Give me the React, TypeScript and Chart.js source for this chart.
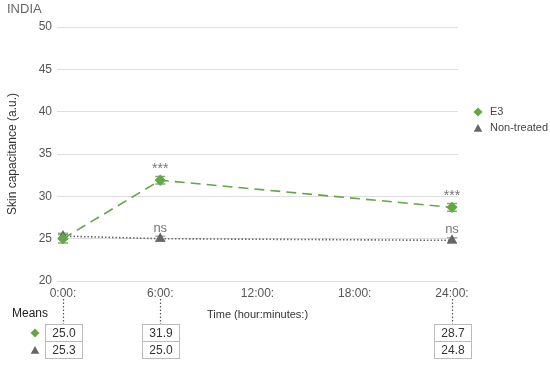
import React, { useEffect, useRef } from "react";
import { Chart, registerables } from "chart.js";

Chart.register(...registerables);

const FONT = "'Liberation Sans', Arial, Helvetica, sans-serif";

const times = [0, 6, 24];
const xTicks = [0, 6, 12, 18, 24];
const e3Values = [25.0, 31.9, 28.7];
const e3Errors = [0.5, 0.45, 0.45];
const ntValues = [25.3, 25.0, 24.8];
const ntErrors = [0.35, 0.3, 0.3];
const e3Sig = ["", "***", "***"];
const ntSig = ["", "ns", "ns"];
const seriesNames = ["E3", "Non-treated"];
const GREEN = "#62a844";
const GRAY = "#666666";

function drawDiamond(ctx: CanvasRenderingContext2D, x: number, y: number, r: number, color: string) {
  ctx.save();
  ctx.fillStyle = color;
  ctx.beginPath();
  ctx.moveTo(x, y - r);
  ctx.lineTo(x + r, y);
  ctx.lineTo(x, y + r);
  ctx.lineTo(x - r, y);
  ctx.closePath();
  ctx.fill();
  ctx.restore();
}

function drawTriangle(ctx: CanvasRenderingContext2D, x: number, y: number, r: number, color: string) {
  ctx.save();
  ctx.fillStyle = color;
  ctx.beginPath();
  ctx.moveTo(x, y - r);
  ctx.lineTo(x + r * 0.95, y + r * 0.7);
  ctx.lineTo(x - r * 0.95, y + r * 0.7);
  ctx.closePath();
  ctx.fill();
  ctx.restore();
}

const extrasPlugin = {
  id: "extras",
  beforeDatasetsDraw(chart: any) {
    const ctx = chart.ctx as CanvasRenderingContext2D;
    const y = chart.scales.y;
    const errs = [e3Errors, ntErrors];
    const vals = [e3Values, ntValues];
    const cols = ["#8aa67a", "#aaaaaa"];
    [1, 0].forEach((di) => {
      const meta = chart.getDatasetMeta(di);
      meta.data.forEach((pt: any, i: number) => {
        const top = y.getPixelForValue(vals[di][i] + errs[di][i]);
        const bot = y.getPixelForValue(vals[di][i] - errs[di][i]);
        ctx.save();
        ctx.strokeStyle = cols[di];
        ctx.lineWidth = 1.5;
        ctx.beginPath();
        ctx.moveTo(pt.x, top);
        ctx.lineTo(pt.x, bot);
        ctx.moveTo(pt.x - 5, top);
        ctx.lineTo(pt.x + 5, top);
        ctx.moveTo(pt.x - 5, bot);
        ctx.lineTo(pt.x + 5, bot);
        ctx.stroke();
        ctx.restore();
      });
    });
  },
  afterDraw(chart: any) {
    const ctx = chart.ctx as CanvasRenderingContext2D;
    const xs = chart.scales.x;
    const ys = chart.scales.y;

    // title
    ctx.save();
    ctx.fillStyle = "#666";
    ctx.font = `13px ${FONT}`;
    ctx.textBaseline = "middle";
    ctx.textAlign = "left";
    ctx.fillText("INDIA", 7, 9);

    // significance labels
    ctx.fillStyle = "#777";
    ctx.textAlign = "center";
    ctx.textBaseline = "alphabetic";
    const sigs = [e3Sig, ntSig];
    const vals = [e3Values, ntValues];
    sigs.forEach((arr, di) => {
      arr.forEach((s, i) => {
        if (!s) return;
        const px = xs.getPixelForValue(times[i]);
        const py = ys.getPixelForValue(vals[di][i]);
        ctx.font = `${s === "ns" ? 13 : 14}px ${FONT}`;
        ctx.fillText(s, px, py - 7);
      });
    });

    // legend
    ctx.font = `11px ${FONT}`;
    ctx.fillStyle = "#444";
    ctx.textAlign = "left";
    ctx.textBaseline = "middle";
    drawDiamond(ctx, 478, 112, 4.5, GREEN);
    ctx.fillText(seriesNames[0], 490, 112);
    drawTriangle(ctx, 478, 128.5, 4.5, GRAY);
    ctx.fillText(seriesNames[1], 490, 128);

    // means table
    ctx.fillStyle = "#222";
    ctx.font = `12px ${FONT}`;
    ctx.fillText("Means", 12, 314);
    ctx.font = `11px ${FONT}`;
    ctx.fillStyle = "#333";
    ctx.fillText("Time (hour:minutes:)", 207, 315);
    drawDiamond(ctx, 35, 333, 4.5, GREEN);
    drawTriangle(ctx, 35, 350.5, 4.5, GRAY);

    const tTop = 324;
    const rowH = 17;
    const w = 37;
    times.forEach((t, i) => {
      const px = Math.round(xs.getPixelForValue(t)) + 0.5;
      ctx.save();
      ctx.strokeStyle = "#555";
      ctx.lineWidth = 1.2;
      ctx.setLineDash([1.5, 2]);
      ctx.beginPath();
      ctx.moveTo(px, 299);
      ctx.lineTo(px, tTop);
      ctx.stroke();
      ctx.restore();
      ctx.save();
      ctx.strokeStyle = "#bbb";
      ctx.lineWidth = 1;
      const left = Math.round(px - w / 2) + 0.5;
      ctx.strokeRect(left, tTop + 0.5, w, rowH);
      ctx.strokeRect(left, tTop + rowH + 0.5, w, rowH);
      ctx.fillStyle = "#333";
      ctx.font = `12px ${FONT}`;
      ctx.textAlign = "center";
      ctx.textBaseline = "middle";
      ctx.fillText(e3Values[i].toFixed(1), left + w / 2, tTop + rowH / 2 + 1);
      ctx.fillText(ntValues[i].toFixed(1), left + w / 2, tTop + rowH * 1.5 + 1);
      ctx.restore();
    });
    ctx.restore();
  },
};

export default function App() {
  const ref = useRef<HTMLCanvasElement | null>(null);
  useEffect(() => {
    if (!ref.current) return;
    Chart.defaults.font.family = FONT;
    const chart = new Chart(ref.current, {
      type: "line",
      data: {
        datasets: [
          {
            label: seriesNames[0],
            data: times.map((t, i) => ({ x: t, y: e3Values[i] })),
            borderColor: GREEN,
            backgroundColor: GREEN,
            borderWidth: 1.6,
            borderDash: [10, 6],
            pointStyle: "rectRot",
            pointRadius: 4.5,
            pointBackgroundColor: GREEN,
            pointBorderColor: GREEN,
            fill: false,
            tension: 0,
          },
          {
            label: seriesNames[1],
            data: times.map((t, i) => ({ x: t, y: ntValues[i] })),
            borderColor: "#666",
            backgroundColor: GRAY,
            borderWidth: 1.6,
            borderDash: [1.5, 2],
            pointStyle: "triangle",
            pointRadius: 4.5,
            pointBackgroundColor: GRAY,
            pointBorderColor: GRAY,
            fill: false,
            tension: 0,
          },
        ],
      },
      options: {
        responsive: false,
        animation: false,
        layout: { padding: { left: 0, top: 27, right: 92, bottom: 64 } },
        plugins: { legend: { display: false }, tooltip: { enabled: false } },
        scales: {
          x: {
            type: "linear",
            min: -0.37,
            max: 24.37,
            afterBuildTicks: (s: any) => {
              s.ticks = xTicks.map((v) => ({ value: v }));
            },
            afterFit: (s: any) => {
              s.height = 20;
            },
            grid: { display: false, drawTicks: false },
            border: { display: false },
            ticks: {
              callback: (v: any) => `${v}:00:`,
              font: { size: 12, family: FONT },
              color: "#555",
              padding: 5,
              maxRotation: 0,
              autoSkip: false,
            },
          },
          y: {
            min: 20,
            max: 50,
            afterFit: (s: any) => {
              s.width = 57;
            },
            grid: { color: "#dddddd", drawTicks: false, lineWidth: 1 },
            border: { display: false },
            ticks: {
              stepSize: 5,
              font: { size: 12, family: FONT },
              color: "#555",
              padding: 5,
            },
            title: {
              display: true,
              text: "Skin capacitance (a.u.)",
              font: { size: 12, family: FONT },
              color: "#333",
              padding: { top: 5, bottom: 0 },
            },
          },
        },
      },
      plugins: [extrasPlugin],
    });
    return () => chart.destroy();
  }, []);
  return (
    <div style={{ position: "absolute", left: 0, top: 0, width: 550, height: 365, background: "#fff" }}>
      <canvas ref={ref} width={550} height={365} />
    </div>
  );
}
